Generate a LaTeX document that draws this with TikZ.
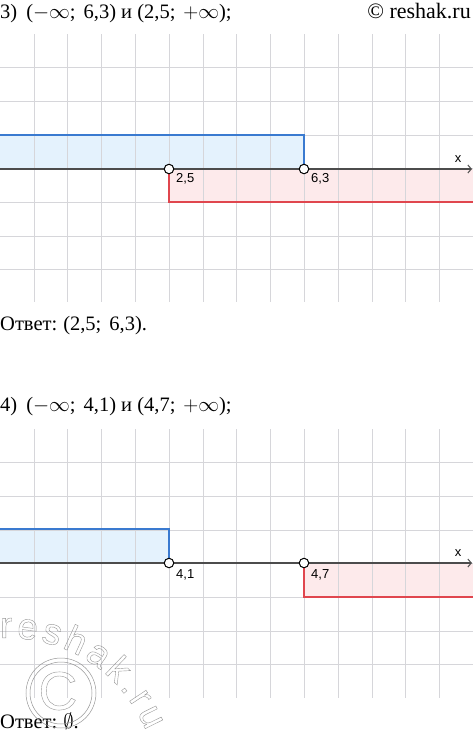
\documentclass[tikz,border=0pt]{standalone}
\usepackage{fontspec}
\setmainfont{Liberation Serif}
\setsansfont{Liberation Sans}
\usetikzlibrary{positioning,arrows.meta,decorations.text}
\definecolor{setblue}{RGB}{58,122,208}
\definecolor{setbluefill}{RGB}{228,242,253}
\definecolor{setred}{RGB}{224,70,78}
\definecolor{setredfill}{RGB}{253,234,235}
\definecolor{gridgray}{RGB}{214,214,218}
\definecolor{markgray}{RGB}{150,150,150}
\newcommand{\outlinetext}{\special{pdf:code 1 Tr 0.4 w}}
\newcommand{\filltext}{\special{pdf:code 0 Tr}}
\newcommand{\gapsemi}{;\hspace{8pt}}

\begin{document}
\begin{tikzpicture}[x=1pt, y=-1pt,
    gridline/.style={draw=gridgray, line width=1pt},
    axisline/.style={draw=black!70, line width=1.3pt, -{Straight Barb[length=3.5pt, width=8pt, line width=1pt]}},
    hole/.style={circle, draw=black, fill=white, line width=1pt, inner sep=0pt, minimum size=9.5pt},
    val/.style={font=\sffamily\fontsize{13}{13}\selectfont, inner sep=1pt},
    task/.style={font=\fontsize{20.5}{20.5}\selectfont, anchor=base west, inner sep=0pt},
    blueset/.style={draw=setblue, line width=1.5pt},
    redset/.style={draw=setred, line width=1.5pt},
]
\useasboundingbox (0,0) rectangle (473,734);

% Headings
\node[task] (t3) at (0,18) {3)\hspace{9pt}($-\infty$\gapsemi 6,3) и (2,5\gapsemi$+\infty$);};
\node[font=\fontsize{22}{22}\selectfont, anchor=base east, inner sep=0pt] (copy) at (471,18) {© reshak.ru};

% Task 3: fills
\fill[setbluefill] (0,135) rectangle (304,169);
\fill[setredfill] (169,169) rectangle (473,202);

% Task 3: grid
\foreach \i in {0,...,12}
  \draw[gridline] (34+33.8*\i,34) -- (34+33.8*\i,302);
\foreach \j in {1,...,7}
  \draw[gridline] (0,34+33.7*\j) -- (473,34+33.7*\j);

% Task 3: borders
\draw[blueset] (0,135) -- (304,135) -- (304,169);
\draw[redset] (169,169) -- (169,202) -- (473,202);

% Task 3: axis
\coordinate (a3l) at (0,169);
\coordinate (a3r) at (472,169);
\draw[axisline] (a3l) -- (a3r);
\node[val] (x3) at (458,159) {x};

\node[hole] (p25) at (169,169) {};
\node[hole] (p63) at (304,169) {};
\node[val, below right=3pt and 6pt of p25.center] (l25) {2,5};
\node[val, below right=3pt and 6pt of p63.center] (l63) {6,3};

\node[task] (ans3) at (0,330) {Ответ:\hspace{6pt}(2,5\gapsemi 6,3).};

% Task 4
\node[task] (t4) at (0,411) {4)\hspace{9pt}($-\infty$\gapsemi 4,1) и (4,7\gapsemi$+\infty$);};

\fill[setbluefill] (0,529) rectangle (169,563);
\fill[setredfill] (304,563) rectangle (473,597);

\foreach \i in {0,...,12}
  \draw[gridline] (34+33.8*\i,429) -- (34+33.8*\i,698);
\foreach \j in {1,...,7}
  \draw[gridline] (0,429+33.7*\j) -- (473,429+33.7*\j);

\draw[blueset] (0,529) -- (169,529) -- (169,563);
\draw[redset] (304,563) -- (304,597) -- (473,597);

\coordinate (a4l) at (0,563);
\coordinate (a4r) at (472,563);
\draw[axisline] (a4l) -- (a4r);
\node[val] (x4) at (458,553) {x};

\node[hole] (p41) at (169,563) {};
\node[hole] (p47) at (304,563) {};
\node[val, below right=5pt and 6pt of p41.center] (l41) {4,1};
\node[val, below right=5pt and 6pt of p47.center] (l47) {4,7};

\node[task] (ans4) at (0,728) {Ответ:\hspace{6pt}$\emptyset$.};

% Watermark (outlined, drawn last)
\draw[markgray, line width=0.5pt] (61,693) circle (35) (61,693) circle (31);
\node[font=\sffamily\fontsize{54}{54}\selectfont, text=markgray, inner sep=0pt] (wc) at (58,691) {\outlinetext C};
\path[decorate, font=\sffamily\fontsize{37}{37}\selectfont,
    decoration={text along path, text align={fit to path},
    text color=markgray,
    text={|\sffamily\fontsize{37}{37}\selectfont\outlinetext|reshak.ru}}]
  (0,638) .. controls (52,636) and (116,660) .. (146,731);
\node[inner sep=0pt] (reset) at (0,734) {\filltext};
\end{tikzpicture}
\end{document}
